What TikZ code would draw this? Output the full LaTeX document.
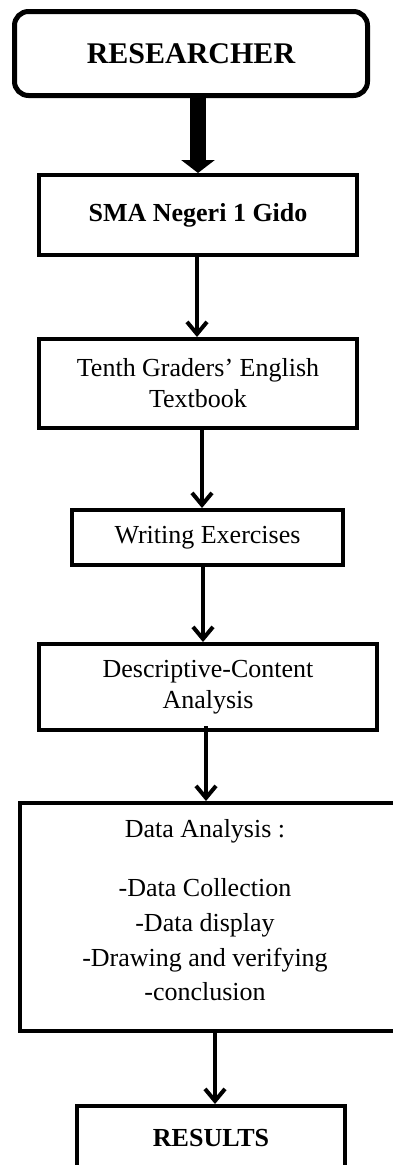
\documentclass[tikz,border=0pt]{standalone}
\usepackage{fontspec}
\setmainfont{Liberation Serif}
\usetikzlibrary{arrows.meta,calc}
\begin{document}
\begin{tikzpicture}[x=1pt,y=-1pt,
  box/.style={draw,line width=4pt,inner sep=0pt,align=center,
    font=\fontsize{26}{31}\selectfont},
  conn/.style={line width=4pt,-{Straight Barb[length=12pt,width=20pt,line width=4pt]}},
  txt/.style={inner sep=0pt,align=center,font=\fontsize{26}{34.7}\selectfont}]
\useasboundingbox (0,0) rectangle (393,1165);
\node[box,line width=5pt,rounded corners=14pt,minimum width=353pt,minimum height=84pt,
  font=\fontsize{30}{36}\selectfont\bfseries] (res) at (191,53.5) {RESEARCHER};
\node[box,minimum width=318pt,minimum height=80pt,font=\fontsize{26}{31}\selectfont\bfseries]
  (sma) at (198,215) {SMA Negeri 1 Gido};
\node[box,minimum width=318pt,minimum height=89pt] (ten) at (198,383.5)
  {Tenth Graders’ English\\Textbook};
\node[box,minimum width=271pt,minimum height=55pt] (wri) at (207.5,537.5)
  {Writing Exercises};
\node[box,minimum width=338pt,minimum height=86pt] (des) at (208,687)
  {Descriptive-Content\\Analysis};
\node[box,minimum width=380pt,minimum height=228pt] (dat) at (210,917) {};
\node[txt] (dattxt) at (205,910)
  {Data Analysis :\\[25pt]-Data Collection\\-Data display\\-Drawing and verifying\\-conclusion};
\node[box,minimum width=268pt,minimum height=64pt,font=\fontsize{26}{31}\selectfont\bfseries]
  (resu) at (211,1138) {RESULTS};
\draw[line width=16pt,-{Triangle[length=13pt,width=33pt]}]
  ($(res.south)+(7,0)$) -- ($(sma.north)+(0,0)$);
\draw[conn] ($(sma.south)+(-1,0)$) -- ($(ten.north)+(-1,0)$);
\draw[conn] ($(ten.south)+(4,0)$) -- ($(wri.north)+(-5.5,0)$);
\draw[conn] ($(wri.south)+(-4.5,0)$) -- ($(des.north)+(-5,0)$);
\draw[conn] ($(des.south)+(-2,-6)$) -- ($(dat.north)+(-4,0)$);
\draw[conn] ($(dat.south)+(5,0)$) -- ($(resu.north)+(4,0)$);
\end{tikzpicture}
\end{document}
